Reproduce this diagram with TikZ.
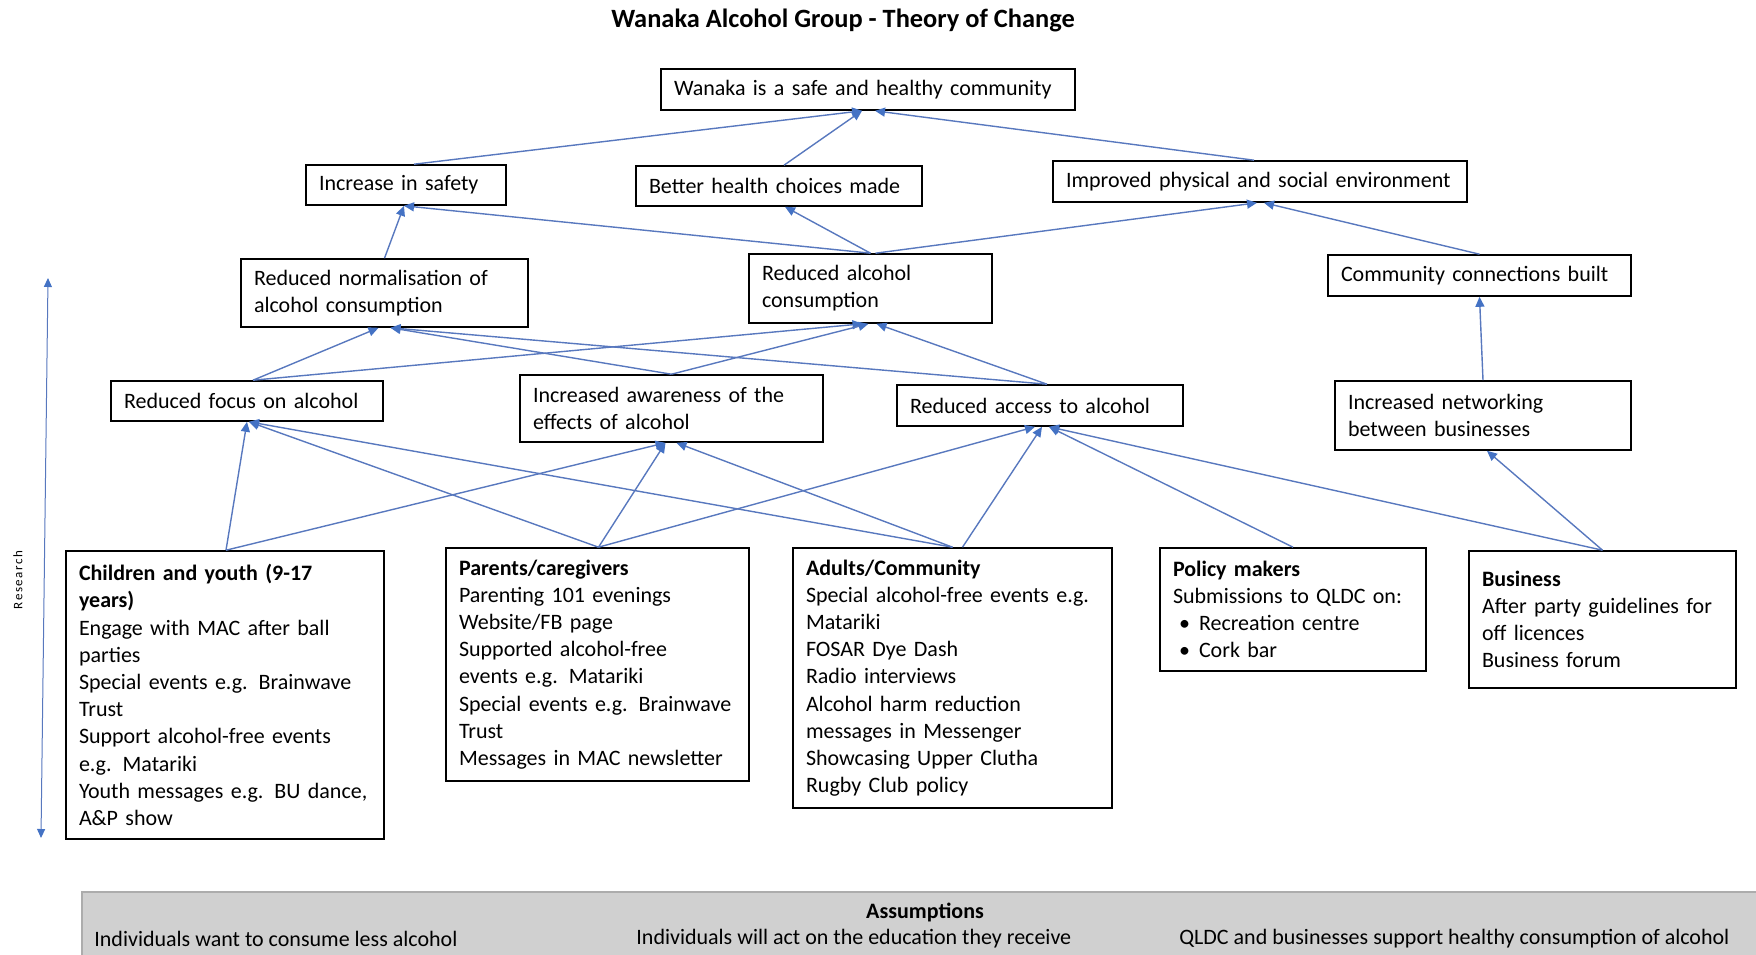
\documentclass[tikz,border=0pt]{standalone}
\usepackage{fontspec}
\setmainfont{Carlito}
\usetikzlibrary{arrows.meta}
\definecolor{lineblue}{RGB}{88,120,190}
\definecolor{tipblue}{RGB}{68,114,196}
\definecolor{asmfill}{RGB}{208,208,208}
\definecolor{asmdraw}{RGB}{172,172,172}
\tikzset{
  box/.style={draw=black, line width=0.8pt, align=left, inner xsep=6.5pt, inner ysep=0pt,
    font=\fontsize{11}{13.6}\selectfont},
  arr/.style={draw=lineblue, line width=0.7pt,
    -{Triangle[length=5pt,width=4.5pt,color=tipblue]}},
  resarr/.style={draw=lineblue, line width=0.5pt,
    {Triangle[length=4.5pt,width=4pt,color=tipblue]}-{Triangle[length=4.5pt,width=4pt,color=tipblue]}},
  plain/.style={inner sep=0pt, font=\fontsize{11}{13.6}\selectfont},
}
\newcommand{\blt}[1]{\makebox[13pt][l]{\hspace{3pt}\textbullet}#1}
\begin{document}
\begin{tikzpicture}[x=0.5pt,y=-0.5pt]
\useasboundingbox (0,0) rectangle (1756,954);

% title
\node[inner sep=0pt, font=\fontsize{13.2}{15}\selectfont\bfseries] (title) at (843,20) {Wanaka Alcohol Group - Theory of Change};

% outcome boxes
\node[box, minimum width=207pt, minimum height=20.5pt, text width=194pt] (top) at (868,89.5) {Wanaka is a safe and healthy community};
\node[box, minimum width=100pt, minimum height=20pt, text width=87pt] (safety) at (406,185) {Increase in safety};
\node[box, minimum width=143pt, minimum height=20pt, text width=130pt] (health) at (779,186) {Better health choices made};
\node[box, minimum width=207pt, minimum height=20.5pt, text width=194pt] (improved) at (1260,181.5) {Improved physical and social environment};
\node[box, minimum width=143.5pt, minimum height=34pt, text width=130.5pt] (normal) at (384.5,293) {Reduced normalisation of\\alcohol consumption};
\node[box, minimum width=121.5pt, minimum height=34.5pt, text width=108.5pt] (redalc) at (870.5,288.5) {Reduced alcohol\\consumption};
\node[box, minimum width=151.5pt, minimum height=20.5pt, text width=138.5pt] (community) at (1479.5,275.5) {Community connections built};
\node[box, minimum width=136pt, minimum height=20pt, text width=123pt] (focus) at (247,401) {Reduced focus on alcohol};
\node[box, minimum width=151.5pt, minimum height=33.5pt, text width=138.5pt] (aware) at (671.5,408.5) {Increased awareness of the\\effects of alcohol};
\node[box, minimum width=143pt, minimum height=20.5pt, text width=130pt] (access) at (1040,405.5) {Reduced access to alcohol};
\node[box, minimum width=148pt, minimum height=34.5pt, text width=135pt] (network) at (1483,415.5) {Increased networking\\between businesses};

% activity boxes
\node[box, minimum width=159pt, minimum height=144pt, text width=146pt] (children) at (225,695) {\textbf{Children and youth (9-17}\\\textbf{years)}\\Engage with MAC after ball\\parties\\Special events e.g. Brainwave\\Trust\\Support alcohol-free events\\e.g. Matariki\\Youth messages e.g. BU dance,\\A\&P show};
\node[box, minimum width=151.5pt, minimum height=116.5pt, text width=138.5pt] (parents) at (597.5,664.5) {\textbf{Parents/caregivers}\\Parenting 101 evenings\\Website/FB page\\Supported alcohol-free\\events e.g. Matariki\\Special events e.g. Brainwave\\Trust\\Messages in MAC newsletter};
\node[box, minimum width=159.5pt, minimum height=130pt, text width=146.5pt] (adults) at (952.5,678) {\textbf{Adults/Community}\\Special alcohol-free events e.g.\\Matariki\\FOSAR Dye Dash\\Radio interviews\\Alcohol harm reduction\\messages in Messenger\\Showcasing Upper Clutha\\Rugby Club policy};
\node[box, minimum width=133pt, minimum height=61.5pt, text width=120pt] (policy) at (1293,609.5) {\textbf{Policy makers}\\Submissions to QLDC on:\\\blt{Recreation centre}\\\blt{Cork bar}};
\node[box, minimum width=133.5pt, minimum height=68.5pt, text width=120.5pt] (business) at (1602.5,619.5) {\textbf{Business}\\After party guidelines for\\off licences\\Business forum};

% connectors
\draw[arr] ([xshift=4pt]safety.north) -- ([xshift=-3pt]top.south);
\draw[arr] ([xshift=2.5pt]health.north) -- ([xshift=-3pt]top.south);
\draw[arr] ([xshift=-3pt]improved.north) -- ([xshift=3.5pt]top.south);
\draw[arr] (normal.north) -- ([xshift=-1pt]safety.south);
\draw[arr] (redalc.north) -- ([xshift=-1pt]safety.south);
\draw[arr] (redalc.north) -- ([xshift=3pt]health.south);
\draw[arr] ([xshift=2.5pt]redalc.north) -- ([xshift=-1.5pt]improved.south);
\draw[arr] (community.north) -- ([xshift=2pt]improved.south);
\draw[arr] ([xshift=3pt]focus.north) -- ([xshift=-3pt]normal.south);
\draw[arr] ([xshift=3pt]focus.north) -- ([xshift=-4pt]redalc.south);
\draw[arr] (aware.north) -- ([xshift=3pt]normal.south);
\draw[arr] (aware.north) -- ([xshift=-1pt]redalc.south);
\draw[arr] ([xshift=3.5pt]access.north) -- ([xshift=3pt]normal.south);
\draw[arr] ([xshift=3.5pt]access.north) -- ([xshift=3pt]redalc.south);
\draw[arr] (network.north) -- (community.south);
\draw[arr] ([xshift=0.5pt]children.north) -- (focus.south);
\draw[arr] ([xshift=0.5pt]children.north) -- ([xshift=-3pt]aware.south);
\draw[arr] ([xshift=0.5pt]parents.north) -- ([xshift=1pt]focus.south);
\draw[arr] ([xshift=0.5pt]parents.north) -- ([xshift=-3pt]aware.south);
\draw[arr] ([xshift=0.5pt]parents.north) -- ([xshift=-2.5pt]access.south);
\draw[arr] (adults.north) -- ([xshift=1pt]focus.south);
\draw[arr] (adults.north) -- ([xshift=2.5pt]aware.south);
\draw[arr] ([xshift=5pt]adults.north) -- ([xshift=1pt]access.south);
\draw[arr] (policy.north) -- ([xshift=4.5pt]access.south);
\draw[arr] (business.north) -- ([xshift=4.5pt]access.south);
\draw[arr] (business.north) -- ([xshift=2pt]network.south);

% research arrow
\coordinate (rtop) at (48,278);
\coordinate (rbot) at (41,838);
\draw[resarr] (rtop) -- (rbot);
\node[rotate=90, inner sep=0pt, font=\fontsize{6.5}{7}\selectfont\addfontfeature{LetterSpace=12}] (research) at (18,580) {Research};

% assumptions
\node[draw=asmdraw, fill=asmfill, line width=0.8pt, anchor=north west, minimum width=845pt, minimum height=40pt, inner sep=0pt] (asm) at (81,891) {};
\node[plain, font=\fontsize{11}{13.6}\selectfont\bfseries] (asmtitle) at (925,912) {Assumptions};
\node[plain, anchor=west] (asm1) at (94,939) {Individuals want to consume less alcohol};
\node[plain, anchor=west] (asm2) at (636,939) {Individuals will act on the education they receive};
\node[plain, anchor=west] (asm3) at (1179,939) {QLDC and businesses support healthy consumption of alcohol};
\end{tikzpicture}
\end{document}
